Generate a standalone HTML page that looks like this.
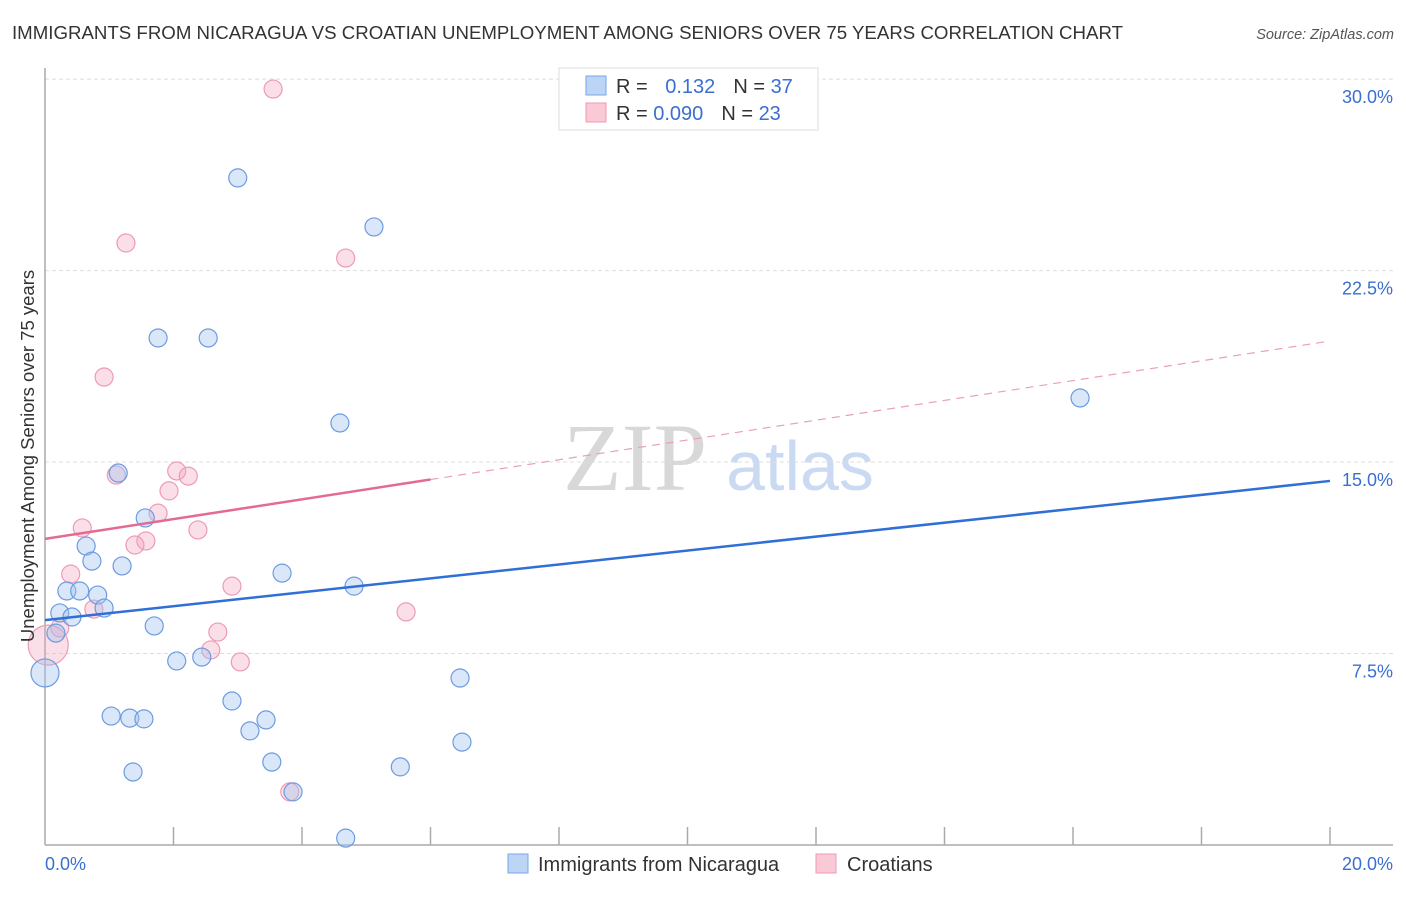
<!DOCTYPE html>
<html><head><meta charset="utf-8"><style>
body{margin:0;background:#fff;font-family:"Liberation Sans",sans-serif;}
</style></head><body>
<svg width="1406" height="892" xmlns="http://www.w3.org/2000/svg" id="chart">
<text x="12" y="39" font-size="18.6" fill="#333" textLength="1111" lengthAdjust="spacingAndGlyphs">IMMIGRANTS FROM NICARAGUA VS CROATIAN UNEMPLOYMENT AMONG SENIORS OVER 75 YEARS CORRELATION CHART</text>
<text x="1394" y="39" font-size="14.5" fill="#555" font-style="italic" text-anchor="end">Source: ZipAtlas.com</text>
<text x="635" y="490" font-size="96" fill="#d8d8d8" font-family="Liberation Serif,serif" text-anchor="middle">ZIP</text>
<text x="800" y="490" font-size="70" fill="#c9daf2" text-anchor="middle">atlas</text>
<g id="grid"></g><g id="axes"></g><g id="marks"></g>
<text transform="translate(34,456) rotate(-90)" font-size="18.5" fill="#333" text-anchor="middle">Unemployment Among Seniors over 75 years</text>
<g>
<rect x="559" y="68" width="259" height="62" fill="#fff" stroke="#ddd"/>
<rect x="586" y="76" width="20" height="19" fill="#bcd4f5" stroke="#7aa6e6"/>
<rect x="586" y="103" width="20" height="19" fill="#f9c9d6" stroke="#ee9ab2"/>
<text x="616" y="93" font-size="20" fill="#333">R = <tspan fill="#3a6fd0" dx="12">0.132</tspan><tspan dx="18" fill="#333">N = </tspan><tspan fill="#3a6fd0">37</tspan></text>
<text x="616" y="120" font-size="20" fill="#333">R = <tspan fill="#3a6fd0">0.090</tspan><tspan dx="18" fill="#333">N = </tspan><tspan fill="#3a6fd0">23</tspan></text>
</g>
<g>
<rect x="508" y="854" width="20" height="19" fill="#bcd4f5" stroke="#7aa6e6"/>
<text x="538" y="871" font-size="20" fill="#333">Immigrants from Nicaragua</text>
<rect x="816" y="854" width="20" height="19" fill="#f9c9d6" stroke="#ee9ab2"/>
<text x="847" y="871" font-size="20" fill="#333">Croatians</text>
</g>
</svg>
<script>
const yTicks=[7.5,15,22.5,30];
const yTickLabels=["7.5%","15.0%","22.5%","30.0%"];
const xTicks=[0,2,4,6,8,10,12,14,16,18,20];
const blueX=[3.00,5.12,1.76,2.54,4.59,16.11,1.14,1.56,0.64,0.73,1.20,3.69,4.81,0.34,0.54,0.82,0.23,0.92,0.42,1.70,0.17,0.00,2.05,2.44,6.46,2.91,1.03,1.32,1.54,3.44,3.19,6.49,3.53,5.53,1.37,3.86,4.68];
const blueY=[26.13,24.21,19.86,19.86,16.53,17.51,14.57,12.81,11.71,11.12,10.93,10.65,10.14,9.95,9.95,9.79,9.09,9.28,8.93,8.58,8.30,6.74,7.21,7.36,6.54,5.64,5.05,4.97,4.94,4.90,4.47,4.03,3.25,3.06,2.86,2.08,0.27];
const blueR=[9,9,9,9,9,9,9,9,9,9,9,9,9,9,9,9,9,9,9,9,9,14,9,9,9,9,9,9,9,9,9,9,9,9,9,9,9];
const pinkX=[3.55,1.26,4.68,0.92,2.05,2.23,1.11,1.93,1.76,0.58,2.38,1.57,1.40,0.40,2.91,0.76,5.62,0.23,0.05,2.69,2.58,3.04,3.81];
const pinkY=[29.61,23.58,22.99,18.33,14.65,14.45,14.49,13.87,13.00,12.42,12.34,11.91,11.75,10.61,10.14,9.24,9.13,8.50,7.83,8.34,7.64,7.17,2.08];
const pinkR=[9,9,9,9,9,9,9,9,9,9,9,9,9,9,9,9,9,9,20,9,9,9,9];
const blueTrend=[8.81,14.26];
const pinkTrend=[11.99,19.74];
const pinkSolidEnd=6;
const NS="http://www.w3.org/2000/svg";
const X=v=>45+v*64.25, Y=v=>845-v*25.53;
function mk(tag,attrs,parent){const e=document.createElementNS(NS,tag);for(const k in attrs)e.setAttribute(k,attrs[k]);document.getElementById(parent).appendChild(e);return e;}
yTicks.forEach((t,i)=>{
 const l=mk('line',{x1:45,x2:1393,y1:Y(t),y2:Y(t),stroke:'#ddd','stroke-dasharray':'4,3'},'grid');
 
 
 const tx=mk('text',{x:1393,y:Y(t)+24,'font-size':18,fill:'#3a6fd0','text-anchor':'end'},'grid');
 tx.textContent=yTickLabels[i];
 
 
});
const ya=mk('line',{x1:45,x2:45,y1:68,y2:845,stroke:'#aaa','stroke-width':1.5},'axes');


const xa=mk('line',{x1:45,x2:1393,y1:845,y2:845,stroke:'#aaa','stroke-width':1.5},'axes');


xTicks.forEach(t=>{if(t===0)return;
 const l=mk('line',{x1:X(t),x2:X(t),y1:827,y2:845,stroke:'#aaa','stroke-width':1.5},'axes');
 
 
});
const x0=mk('text',{x:45,y:870,'font-size':18,fill:'#3a6fd0'},'axes');x0.textContent='0.0%';


const x1=mk('text',{x:1393,y:870,'font-size':18,fill:'#3a6fd0','text-anchor':'end'},'axes');x1.textContent='20.0%';


pinkX.forEach((v,i)=>{
 const c=mk('circle',{cx:X(v),cy:Y(pinkY[i]),r:pinkR[i],fill:'rgba(244,164,190,0.35)',stroke:'#ee9ab2','stroke-width':1.2},'marks');
 
 
});
blueX.forEach((v,i)=>{
 const c=mk('circle',{cx:X(v),cy:Y(blueY[i]),r:blueR[i],fill:'rgba(160,196,240,0.4)',stroke:'#6d9be0','stroke-width':1.2},'marks');
 
 
});
const bt=mk('line',{x1:X(0),y1:Y(blueTrend[0]),x2:X(20),y2:Y(blueTrend[1]),stroke:'#2f6fd6','stroke-width':2.5},'marks');


const pm=pinkTrend[0]+(pinkTrend[1]-pinkTrend[0])*pinkSolidEnd/20;
const ps=mk('line',{x1:X(0),y1:Y(pinkTrend[0]),x2:X(pinkSolidEnd),y2:Y(pm),stroke:'#e56a92','stroke-width':2.5},'marks');


const pd=mk('line',{x1:X(pinkSolidEnd),y1:Y(pm),x2:X(20),y2:Y(pinkTrend[1]),stroke:'#e8a0b8','stroke-width':1.2,'stroke-dasharray':'8,6'},'marks');


</script>
</body></html>
